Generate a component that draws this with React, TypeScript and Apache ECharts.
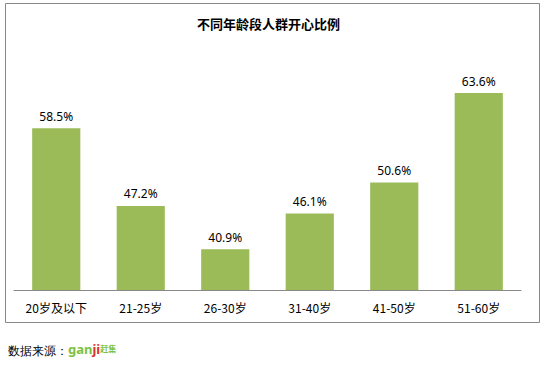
import React, { useEffect, useRef } from "react";
import * as echarts from "echarts";

const categories = ["20岁及以下", "21-25岁", "26-30岁", "31-40岁", "41-50岁", "51-60岁"];
const values = [58.5, 47.2, 40.9, 46.1, 50.6, 63.6];
const titleText = "不同年龄段人群开心比例";
const sourceText = "数据来源：";

export default function App() {
  const ref = useRef<HTMLDivElement>(null);
  useEffect(() => {
    if (!ref.current) return;
    const chart = echarts.init(ref.current, null, { renderer: "svg" });
    chart.setOption({
      animation: false,
      backgroundColor: "#fff",
      title: {
        text: titleText,
        left: 192,
        top: 12,
        textStyle: { fontSize: 13, fontWeight: "bold", color: "#000", fontFamily: "Noto Sans CJK SC" },
      },
      grid: { left: 14, right: 22, top: 49, bottom: 79 },
      xAxis: {
        type: "category",
        data: categories,
        axisLine: { lineStyle: { color: "#888", width: 1 } },
        axisTick: { show: false },
        axisLabel: { color: "#000", fontSize: 12, margin: 11, fontFamily: "Noto Sans CJK SC", interval: 0 },
      },
      yAxis: { type: "value", min: 35, max: 70, show: false, splitLine: { show: false } },
      series: [
        {
          type: "bar",
          data: values,
          barCategoryGap: "43%",
          itemStyle: { color: "#9BBB59" },
          label: {
            show: true,
            position: "top",
            distance: 6,
            color: "#000",
            fontSize: 12,
            fontFamily: "Noto Sans",
            formatter: (p: any) => p.value.toFixed(1) + "%",
          },
        },
      ],
      graphic: [
        {
          type: "rect",
          shape: { x: 5.5, y: 3.5, width: 534, height: 319 },
          style: { fill: "none", stroke: "#888", lineWidth: 1 },
          silent: true,
        },
        {
          type: "text",
          left: 8,
          top: 345,
          style: { text: sourceText, fontSize: 12, fill: "#000", font: "12px 'Noto Sans CJK SC'" },
        },
        {
          type: "text",
          left: 68,
          top: 342,
          style: {
            text: "{g|gan}{j|ji}{c|赶集}",
            rich: {
              g: { fontSize: 13, fontWeight: "bold", fill: "#7CC242", fontFamily: "Noto Sans" },
              j: { fontSize: 13, fontWeight: "bold", fill: "#D9302C", fontFamily: "Noto Sans" },
              c: { fontSize: 8, fontWeight: "bold", fill: "#7CC242", fontFamily: "Noto Sans CJK SC" },
            },
          },
        },
      ],
    });
    return () => chart.dispose();
  }, []);
  return <div ref={ref} style={{ width: 543, height: 369, position: "absolute", left: 0, top: 0 }} />;
}
